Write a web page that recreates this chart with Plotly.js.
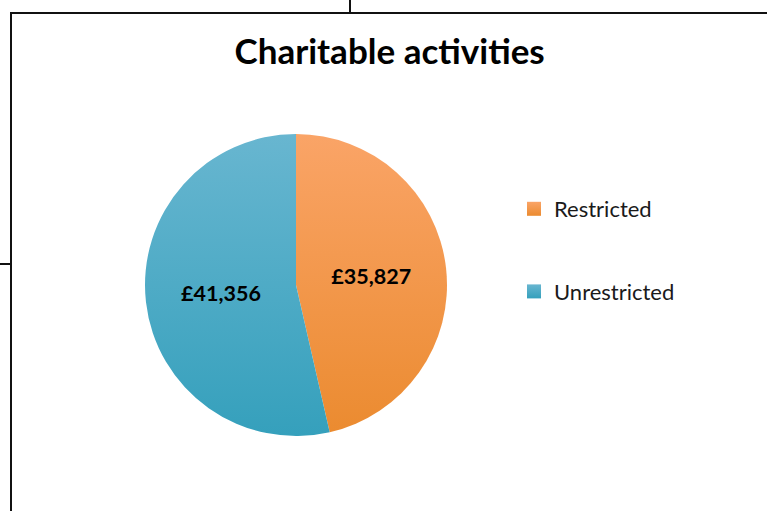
<!DOCTYPE html>
<html>
<head>
<meta charset="utf-8">
<script src="https://cdn.plot.ly/plotly-3.0.1.min.js"></script>
<style>html,body{margin:0;padding:0;background:#fff;}#chart{width:767px;height:511px;}</style>
</head>
<body>
<div id="chart"></div>
<script>
var categories = ['Restricted', 'Unrestricted'];
var values = [35827, 41356];
var colors = ['#F79646', '#4BACC6'];
var gradTop = ['#FAA467', '#68B6D0'];
var gradBottom = ['#EB8B30', '#35A0BC'];
var titleText = 'Charitable activities';

var W = 767, H = 511;
function px(x){ return x / W; }
function py(y){ return 1 - y / H; }

var traces = [{
  type: 'pie',
  labels: categories,
  values: values,
  sort: false,
  direction: 'clockwise',
  rotation: 0,
  marker: {colors: colors, line: {width: 0}},
  texttemplate: '£%{value:,.0f}',
  textposition: 'inside',
  insidetextorientation: 'horizontal',
  textfont: {family: 'Lato, sans-serif', size: 21.5, color: '#000', weight: 'bold'},
  hoverinfo: 'none',
  showlegend: false,
  domain: {x: [px(145), px(447)], y: [py(436), py(134)]}
}];
categories.forEach(function(c, i){
  traces.push({
    type: 'scatter', mode: 'markers', x: [null], y: [null],
    name: c, legendgroup: 'g' + i, showlegend: true,
    marker: {symbol: 'square', size: 14, color: colors[i]},
    hoverinfo: 'none'
  });
});

var layout = {
  width: W, height: H,
  margin: {l: 0, r: 0, t: 0, b: 0},
  paper_bgcolor: '#fff', plot_bgcolor: 'rgba(0,0,0,0)',
  title: {text: '<b>' + titleText + '</b>', x: 0.508, xanchor: 'center', y: py(52), yanchor: 'middle',
          font: {family: 'Lato, sans-serif', size: 35, color: '#000'}},
  xaxis: {visible: false}, yaxis: {visible: false},
  showlegend: true,
  legend: {x: px(514), xanchor: 'left', y: py(188), yanchor: 'top',
           font: {family: 'Lato, sans-serif', size: 22, color: '#1a1a1a'},
           tracegroupgap: 51, bgcolor: 'rgba(0,0,0,0)'},
  shapes: [
    {type: 'rect', xref: 'paper', yref: 'paper', x0: px(11), x1: 1.02, y0: -0.02, y1: py(13), line: {color: '#111', width: 2}},
    {type: 'line', xref: 'paper', yref: 'paper', x0: 0, x1: px(11), y0: py(264), y1: py(264), line: {color: '#111', width: 2}},
    {type: 'line', xref: 'paper', yref: 'paper', x0: px(350), x1: px(350), y0: py(13), y1: 1.02, line: {color: '#111', width: 2}}
  ]
};

function applyGradients(gd){
  try {
    var svg = gd.querySelector('svg.main-svg');
    var defs = svg.querySelector('defs');
    var ns = 'http://www.w3.org/2000/svg';
    categories.forEach(function(c, i){
      var lg = document.createElementNS(ns, 'linearGradient');
      lg.setAttribute('id', 'sliceGrad' + i);
      lg.setAttribute('x1', '0'); lg.setAttribute('y1', '0');
      lg.setAttribute('x2', '0'); lg.setAttribute('y2', '1');
      [[0, gradTop[i]], [1, gradBottom[i]]].forEach(function(s){
        var st = document.createElementNS(ns, 'stop');
        st.setAttribute('offset', s[0]);
        st.setAttribute('stop-color', s[1]);
        lg.appendChild(st);
      });
      defs.appendChild(lg);
    });
    var slices = gd.querySelectorAll('g.slice path.surface');
    slices.forEach(function(p, i){ if (i < categories.length) p.style.fill = 'url(#sliceGrad' + i + ')'; });
    var pts = gd.querySelectorAll('g.legend g.traces');
    pts.forEach(function(t, i){
      var p = t.querySelector('path.scatterpts');
      if (p && i < categories.length) p.style.fill = 'url(#sliceGrad' + i + ')';
    });
  } catch (e) {}
}

Plotly.newPlot('chart', traces, layout, {displayModeBar: false, staticPlot: true}).then(applyGradients);
</script>
</body>
</html>
